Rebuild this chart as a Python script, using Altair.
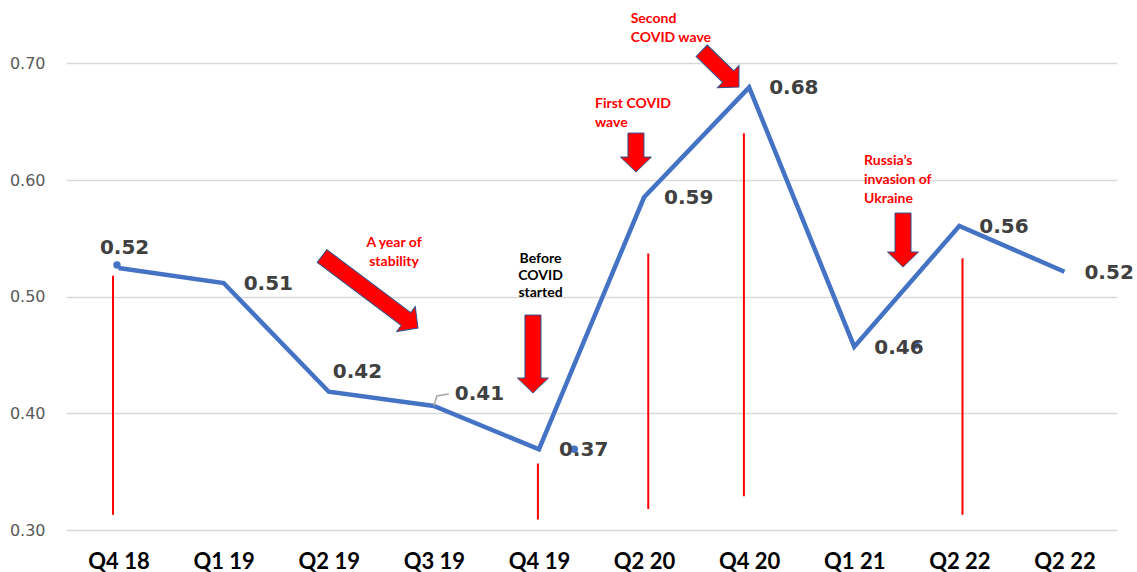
import json

import altair as alt
import pandas as pd

# Quarterly series
quarters = ["Q4 18", "Q1 19", "Q2 19", "Q3 19", "Q4 19", "Q2 20", "Q4 20", "Q1 21", "Q2 22", "Q2 22"]
position = list(range(len(quarters)))
ratio = [0.5246, 0.5117, 0.4185, 0.4063, 0.3692, 0.5852, 0.6794, 0.4571, 0.5606, 0.5214]

# Red event markers (vertical lines)
event_x = [-0.053, 3.99, 5.04, 5.95, 8.03]
event_top = [0.518, 0.357, 0.537, 0.640, 0.533]
event_bottom = [0.313, 0.309, 0.318, 0.329, 0.313]

# Stray blue markers
dot_x = [-0.015, 4.337, 7.588]
dot_y = [0.5271, 0.3692, 0.4586]

# Annotation notes
red_center_text = ["A year of\nstability"]
red_center_x = [2.621]
red_center_y = [0.5426]

black_text = ["Before\nCOVID\nstarted"]
black_x = [4.015]
black_y = [0.5289]

red_left_text = ["First COVID\nwave", "Second\nCOVID wave", "Russia\u2019s\ninvasion of\nUkraine"]
red_left_x = [4.533, 4.873, 7.093]
red_left_y = [0.6617, 0.7346, 0.6128]

# Arrow tips (x position, value) with length in px and rotation
arrow_tip_x = [2.849, 3.943, 4.923, 5.903, 7.464]
arrow_tip_y = [0.4731, 0.4174, 0.6068, 0.6797, 0.5254]
arrow_len = [120, 78, 39, 52, 54]
arrow_angle = [306.9, 0, 0, 314.2, 0]

X_SCALE = alt.Scale(domain=[-0.5, 9.5], nice=False, zero=False)
Y_SCALE = alt.Scale(domain=[0.3, 0.75], nice=False, zero=False)

series = pd.DataFrame({"pos": position, "ratio": ratio, "quarter": quarters})

X_AXIS = alt.Axis(
    values=position,
    labelExpr=f"{json.dumps(quarters)}[datum.value]",
    grid=False, ticks=False, domain=False, title=None,
    labelFont="Lato", labelFontWeight="bold", labelFontSize=22,
    labelColor="#000000", labelPadding=21,
)
Y_AXIS = alt.Axis(
    values=[0.3, 0.4, 0.5, 0.6, 0.7], format=".2f",
    grid=True, gridColor="#D9D9D9", gridWidth=1.3,
    ticks=False, domain=False, title=None,
    labelFont="DejaVu Sans", labelFontSize=16, labelColor="#595959", labelPadding=21,
)


def xq(field):
    return alt.X(f"{field}:Q", scale=X_SCALE, axis=X_AXIS, title=None)


def yq(field):
    return alt.Y(f"{field}:Q", scale=Y_SCALE, axis=Y_AXIS, title=None)


line = alt.Chart(series).mark_line(color="#4472C4", strokeWidth=4.5).encode(
    x=xq("pos"), y=yq("ratio")
)

events = alt.Chart(pd.DataFrame({"x": event_x, "top": event_top, "bottom": event_bottom})).mark_rule(
    color="#FF0000", strokeWidth=2
).encode(x=xq("x"), y=yq("top"), y2="bottom:Q")

dots = alt.Chart(pd.DataFrame({"x": dot_x, "y": dot_y})).mark_point(
    filled=True, color="#4472C4", size=55, opacity=1
).encode(x=xq("x"), y=yq("y"))

label_style = dict(font="DejaVu Sans", fontWeight="bold", fontSize=20, color="#404040")


def value_labels(indices, **kw):
    return alt.Chart(series).transform_filter(
        alt.FieldOneOfPredicate(field="pos", oneOf=indices)
    ).mark_text(**label_style, **kw).encode(
        x=xq("pos"), y=yq("ratio"), text=alt.Text("ratio:Q", format=".2f")
    )


labels_right = value_labels([1, 4, 5, 6, 7, 8, 9], align="left", baseline="middle", dx=20, dy=1)
label_first = value_labels([0], align="center", baseline="middle", dx=6, dy=-20)
label_q2 = value_labels([2], align="left", baseline="middle", dx=4, dy=-20)
label_q3 = value_labels([3], align="left", baseline="middle", dx=21, dy=-12)

# Leader line from the Q3 19 point to its label
leader = alt.Chart(series).transform_filter(alt.datum.pos == 3).mark_point(
    shape="M0,0L3,-10L15,-12", size=4, filled=False, stroke="#A6A6A6",
    strokeWidth=1.5, opacity=1
).encode(x=xq("pos"), y=yq("ratio"))

note_style = dict(font="Lato", fontWeight="bold", fontSize=14, lineBreak="\n",
                  lineHeight=19, baseline="alphabetic")

notes_center = alt.Chart(pd.DataFrame({"x": red_center_x, "y": red_center_y, "t": red_center_text})).mark_text(
    align="center", color="#FF0000", **note_style
).encode(x=xq("x"), y=yq("y"), text="t:N")

notes_black = alt.Chart(pd.DataFrame({"x": black_x, "y": black_y, "t": black_text})).mark_text(
    align="center", color="#000000", **{**note_style, "lineHeight": 17}
).encode(x=xq("x"), y=yq("y"), text="t:N")

notes_left = alt.Chart(pd.DataFrame({"x": red_left_x, "y": red_left_y, "t": red_left_text})).mark_text(
    align="left", color="#FF0000", **note_style
).encode(x=xq("x"), y=yq("y"), text="t:N")


def arrow_path(length, shaft=16, head=31, head_len=15):
    s, h = shaft / 2, head / 2
    return (f"M{-s},{-length}L{s},{-length}L{s},{-head_len}L{h},{-head_len}"
            f"L0,0L{-h},{-head_len}L{-s},{-head_len}Z")


arrows = []
for ax, ay, ln, ang in zip(arrow_tip_x, arrow_tip_y, arrow_len, arrow_angle):
    arrows.append(
        alt.Chart(pd.DataFrame({"x": [ax], "y": [ay]})).mark_point(
            shape=arrow_path(ln), size=4, angle=ang, filled=True,
            fill="#FF0000", stroke="#2F528F", strokeWidth=1, opacity=1
        ).encode(x=xq("x"), y=yq("y"))
    )

chart = alt.layer(
    line, events, *arrows, leader, dots,
    labels_right, label_first, label_q2, label_q3,
    notes_center, notes_black, notes_left,
).properties(
    width=1051, height=525,
    padding={"left": 66, "top": 5, "right": 20, "bottom": 42},
    autosize=alt.AutoSizeParams(type="none"),
    background="#FFFFFF",
).configure_view(stroke=None)

chart.save("out.html", embed_options={"renderer": "svg", "actions": False})
